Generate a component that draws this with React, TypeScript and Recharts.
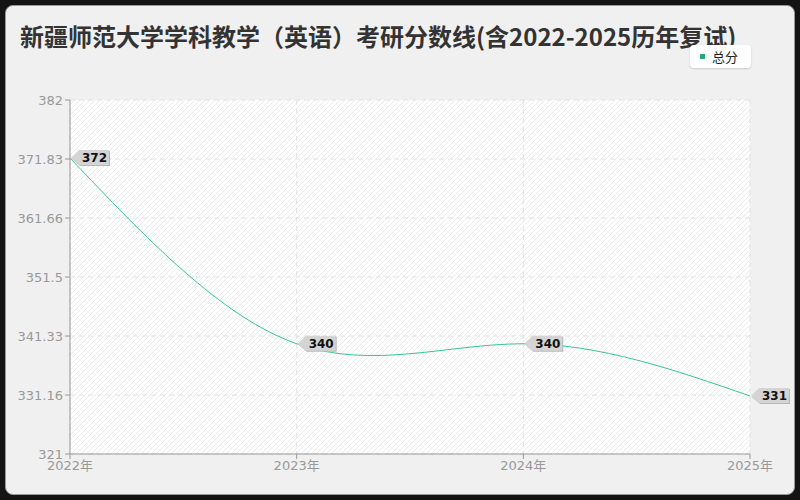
import React from "react";
import {
  LineChart,
  Line,
  XAxis,
  YAxis,
  CartesianGrid,
  LabelList,
} from "recharts";

document.body.style.margin = "0";

const years = ["2022年", "2023年", "2024年", "2025年"];
const totalScores = [372, 340, 340, 331];
const yTicks = [321, 331.16, 341.33, 351.5, 361.66, 371.83, 382];

const data = years.map((year, i) => ({ year, total: totalScores[i] }));

const CJK_FONT = '"Noto Sans CJK SC", "Noto Sans", sans-serif';
const TICK_FONT = '"DejaVu Sans", "Noto Sans CJK SC", sans-serif';
const LINE_COLOR = "#35c59a";

// grey arrow tag pointing left at the data point
const TagLabel = (props: any) => {
  const { x, y, value } = props;
  const px = Number(x);
  const py = Number(y);
  const w = 39;
  const path = `M${px + 1},${py} L${px + 9},${py - 8} L${px + w},${py - 8} L${px + w},${py + 7} L${px + 9},${py + 7} Z`;
  return (
    <g>
      <path d={path} fill="#b8b8b8" transform="translate(1,1)" />
      <path d={path} fill="#d4d4d4" />
      <text
        x={px + 12}
        y={py + 4}
        fontSize={12}
        fontWeight="bold"
        fill="#111"
        fontFamily={TICK_FONT}
      >
        {value}
      </text>
    </g>
  );
};

export default function App() {
  return (
    <div
      style={{
        position: "relative",
        width: 800,
        height: 500,
        background: "#141414",
        overflow: "hidden",
      }}
    >
      <div
        style={{
          position: "absolute",
          left: 5,
          top: 5,
          width: 788,
          height: 488,
          background: "#f0f0f0",
          border: "1px solid #9a9a9a",
          borderRadius: 8,
        }}
      />
      <div
        style={{
          position: "absolute",
          left: 20,
          top: 18,
          fontFamily: CJK_FONT,
          fontSize: 24,
          fontWeight: "bold",
          color: "#333",
          whiteSpace: "nowrap",
        }}
      >
        新疆师范大学学科教学（英语）考研分数线(含2022-2025历年复试)
      </div>
      <div style={{ position: "absolute", left: 0, top: 0 }}>
        <LineChart
          width={800}
          height={500}
          data={data}
          margin={{ top: 100, right: 50, bottom: 16, left: 10 }}
        >
          <defs>
            <pattern
              id="hatch"
              width="5"
              height="5"
              patternUnits="userSpaceOnUse"
            >
              <rect width="5" height="5" fill="#ffffff" />
              <path d="M0,5 L5,0" stroke="#ececec" strokeWidth="1" />
            </pattern>
          </defs>
          <CartesianGrid
            fill="url(#hatch)"
            stroke="#e2e2e2"
            strokeDasharray="5 4"
          />
          <XAxis
            dataKey="year"
            axisLine={{ stroke: "#999" }}
            tickLine={{ stroke: "#999" }}
            tick={{ fill: "#999", fontSize: 13, fontFamily: TICK_FONT }}
            tickSize={5}
            height={30}
            interval={0}
          />
          <YAxis
            domain={[321, 382]}
            ticks={yTicks}
            interval={0}
            width={60}
            axisLine={{ stroke: "#999" }}
            tickLine={{ stroke: "#999" }}
            tick={{ fill: "#999", fontSize: 13, fontFamily: TICK_FONT }}
            tickSize={5}
          />
          <Line
            type="natural"
            dataKey="total"
            name="总分"
            stroke={LINE_COLOR}
            strokeWidth={1}
            dot={false}
            activeDot={false}
            isAnimationActive={false}
          >
            <LabelList dataKey="total" content={<TagLabel />} />
          </Line>
        </LineChart>
      </div>
      <div
        style={{
          position: "absolute",
          left: 690,
          top: 45,
          width: 61,
          height: 23,
          background: "#fff",
          borderRadius: 4,
          boxShadow: "0 1px 2px rgba(0,0,0,0.15)",
          display: "flex",
          alignItems: "center",
          fontFamily: CJK_FONT,
          fontSize: 13,
          color: "#222",
        }}
      >
        <span
          style={{
            display: "inline-block",
            width: 5,
            height: 5,
            background: "#1aaf7a",
            marginLeft: 10,
            marginRight: 7,
          }}
        />
        总分
      </div>
    </div>
  );
}
